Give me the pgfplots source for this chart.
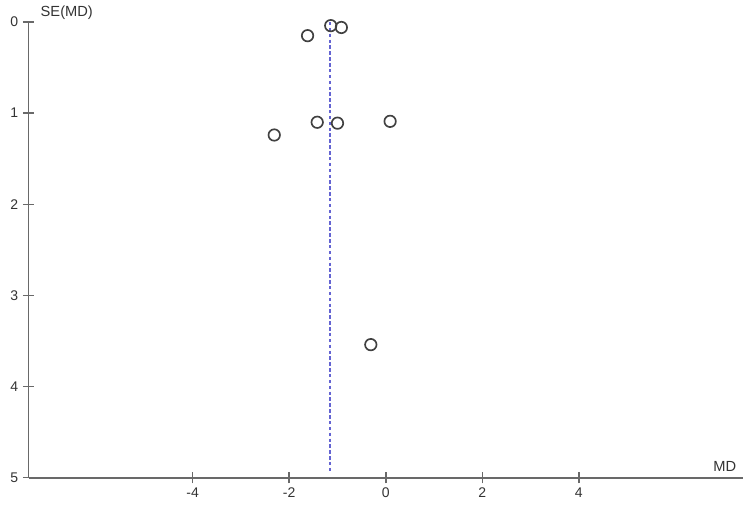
\documentclass[border=0pt]{standalone}
\usepackage{fontspec}
\setmainfont{Liberation Sans}
\usepackage{pgfplots}
\pgfplotsset{compat=1.18}

\definecolor{axgray}{RGB}{105,105,105}
\definecolor{ptgray}{RGB}{65,65,65}
\definecolor{meanblue}{RGB}{100,100,210}

\begin{document}
\begin{tikzpicture}
\begin{axis}[
    scale only axis,
    width=535.9pt, height=341.8pt,
    xmin=-7.4, xmax=7.4,
    ymin=0, ymax=5,
    y dir=reverse,
    axis x line=bottom,
    axis y line=left,
    axis line style={axgray, line width=1.3pt, -},
    xtick={-4,-2,0,2,4},
    ytick={0,1,2,3,4,5},
    xtick align=center,
    ytick align=center,
    major tick length=8.5pt,
    tick style={axgray, line width=1.1pt},
    /pgf/number format/assume math mode=true,
    tick label style={font=\fontsize{10.5}{12}\selectfont, text=black!80},
    clip=false,
  ]
  % mean difference line
  \addplot[meanblue, line width=1.4pt, dash pattern=on 2.6pt off 1.8pt]
    coordinates {(-1.16,0) (-1.16,4.95)};
  % studies: MD, SE(MD)
  \addplot[only marks, mark=o, mark size=4.3pt, ptgray,
           mark options={line width=1.25pt}] coordinates {
    (-1.62,0.15)
    (-1.14,0.04)
    (-0.92,0.06)
    (-1.42,1.10)
    (-1.00,1.11)
    (0.09,1.09)
    (-2.31,1.24)
    (-0.31,3.54)
  };
  \node[anchor=base west, font=\fontsize{11}{13}\selectfont, text=black!80]
    at ([shift={(5.6pt,4pt)}]axis cs:-7.4,0) {SE(MD)};
  \node[anchor=base east, font=\fontsize{11}{13}\selectfont, text=black!80]
    at ([shift={(-1.5pt,4.5pt)}]axis cs:7.4,5) {MD};
  \coordinate (bl) at (axis cs:-7.4,5);
  \coordinate (tr) at (axis cs:7.4,0);
\end{axis}
\pgfresetboundingbox
\path[use as bounding box] ([shift={(-21.4pt,-23.5pt)}]bl) rectangle ([shift={(5.25pt,16.5pt)}]tr);
\end{tikzpicture}
\end{document}
